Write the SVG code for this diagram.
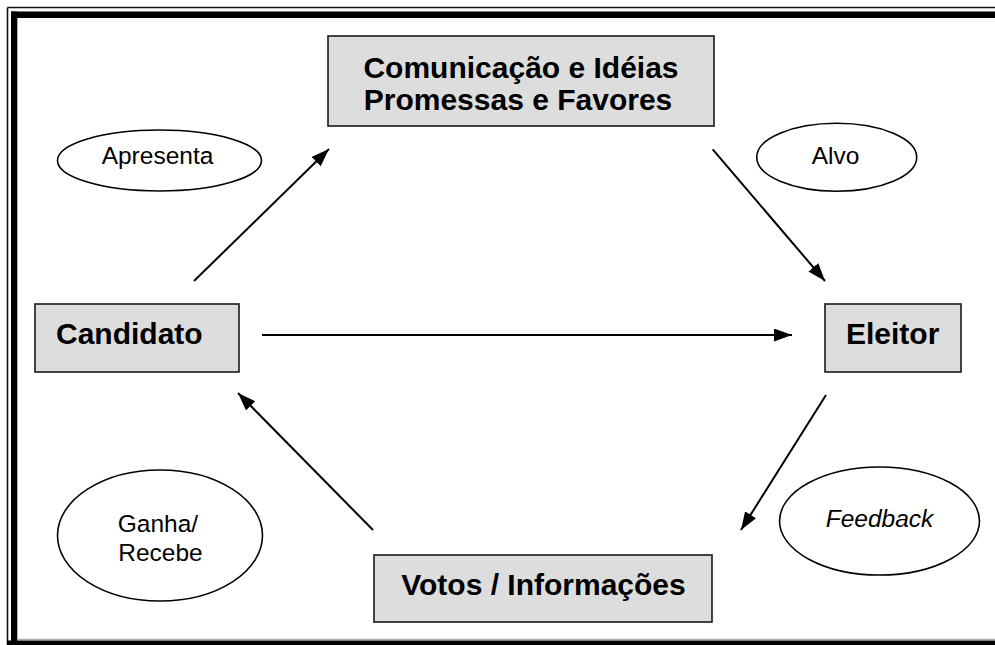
<svg xmlns="http://www.w3.org/2000/svg" width="995" height="645" viewBox="0 0 995 645">
<style>
.box{fill:#dddddd;stroke:#1a1a1a;stroke-width:1.6}
.ell{fill:#ffffff;stroke:#000;stroke-width:1.6}
.bt{font-family:"Liberation Sans",Arial,sans-serif;font-weight:bold;font-size:30px;fill:#000}
.et{font-family:"Liberation Sans",Arial,sans-serif;font-size:24.5px;fill:#000;text-anchor:middle}
.conn line{stroke:#000;stroke-width:2;marker-end:url(#ah)}
</style>
<defs>
<marker id="ah" markerUnits="userSpaceOnUse" markerWidth="20" markerHeight="14" refX="18" refY="6.5" orient="auto">
<path d="M0,0 L18,6.5 L0,13 z" fill="#000"/>
</marker>
</defs>
<rect width="995" height="645" fill="#ffffff"/>
<g id="border">
<line x1="7.5" y1="7.5" x2="995" y2="7.5" stroke="#111" stroke-width="1.6"/>
<line x1="7.5" y1="7.5" x2="7.5" y2="645" stroke="#111" stroke-width="1.6"/>
<rect x="11" y="11.5" width="984" height="6.5" fill="#000"/>
<rect x="11" y="11.5" width="6.3" height="634" fill="#000"/>
<line x1="17" y1="639.3" x2="995" y2="639.3" stroke="#999" stroke-width="1"/>
<rect x="7" y="640.5" width="988" height="5" fill="#000"/>
</g>
<g id="top-box">
<rect class="box" x="328" y="36" width="386" height="90"/>
<text class="bt" x="521" y="78" text-anchor="middle">Comunicação e Idéias</text>
<text class="bt" x="518" y="110" text-anchor="middle">Promessas e Favores</text>
</g>
<g id="candidato">
<rect class="box" x="35" y="304" width="204" height="68"/>
<text class="bt" x="56" y="344">Candidato</text>
</g>
<g id="eleitor">
<rect class="box" x="825" y="304" width="136" height="68"/>
<text class="bt" x="846" y="344">Eleitor</text>
</g>
<g id="votos">
<rect class="box" x="374" y="555" width="338" height="67"/>
<text class="bt" x="543.5" y="595" text-anchor="middle">Votos / Informações</text>
</g>
<g id="apresenta">
<ellipse class="ell" cx="159.5" cy="160.5" rx="102" ry="30.5"/>
<text class="et" x="157.5" y="164">Apresenta</text>
</g>
<g id="alvo">
<ellipse class="ell" cx="836.7" cy="157.2" rx="80" ry="34"/>
<text class="et" x="835.5" y="164">Alvo</text>
</g>
<g id="ganha">
<ellipse class="ell" cx="160" cy="535.5" rx="102.5" ry="65.5"/>
<text class="et" x="158" y="532">Ganha/</text>
<text class="et" x="160.5" y="561">Recebe</text>
</g>
<g id="feedback">
<ellipse class="ell" cx="879.5" cy="521" rx="100" ry="54"/>
<text class="et" x="879.5" y="527" font-style="italic">Feedback</text>
</g>
<g class="conn" id="connectors">
<line x1="194" y1="281" x2="329" y2="149"/>
<line x1="712.7" y1="149.3" x2="825" y2="281"/>
<line x1="262" y1="335" x2="792" y2="335"/>
<line x1="826" y1="395" x2="741" y2="530"/>
<line x1="373" y1="530" x2="238" y2="393"/>
</g>
</svg>
